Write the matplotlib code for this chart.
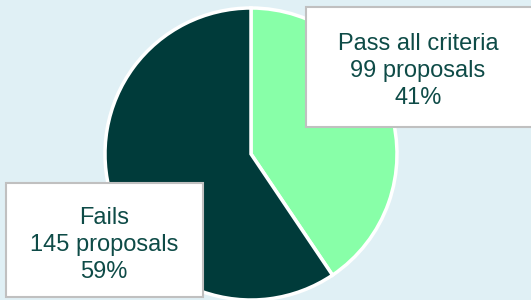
import matplotlib.pyplot as plt
from matplotlib.patches import Rectangle

plt.rcParams['font.family'] = ['Liberation Sans', 'DejaVu Sans']

labels = ['Pass all criteria', 'Fails']
counts = [99, 145]
percents = [41, 59]
colors = ['#88ffa8', '#003b3a']

bg = '#e0f0f5'
text_color = '#0e4b47'

fig = plt.figure(figsize=(5.31, 3.0), dpi=100, facecolor=bg)
ax = fig.add_axes([0, 0, 1, 1])
ax.set_facecolor(bg)

ax.pie(counts, colors=colors, startangle=90, counterclock=False,
       center=(251, 146), radius=146,
       wedgeprops=dict(edgecolor='white', linewidth=2.5))
ax.set_xlim(0, 531)
ax.set_ylim(0, 300)
ax.set_aspect('equal')
ax.axis('off')

boxes = [(306, 173, 240, 120, 418, 229), (6, 3, 197, 114, 104, 55)]
for (x, y, w, h, tx, ty), lab, n, p in zip(boxes, labels, counts, percents):
    ax.add_patch(Rectangle((x, y), w, h, facecolor='white', edgecolor='#c0c0c0',
                           linewidth=1.5, zorder=3, clip_on=True))
    ax.text(tx, ty, f'{lab}\n{n} proposals\n{p}%', ha='center', va='center',
            fontsize=17, color=text_color, linespacing=1.27, zorder=4)

fig.savefig('out.png', dpi=100, facecolor=bg)
